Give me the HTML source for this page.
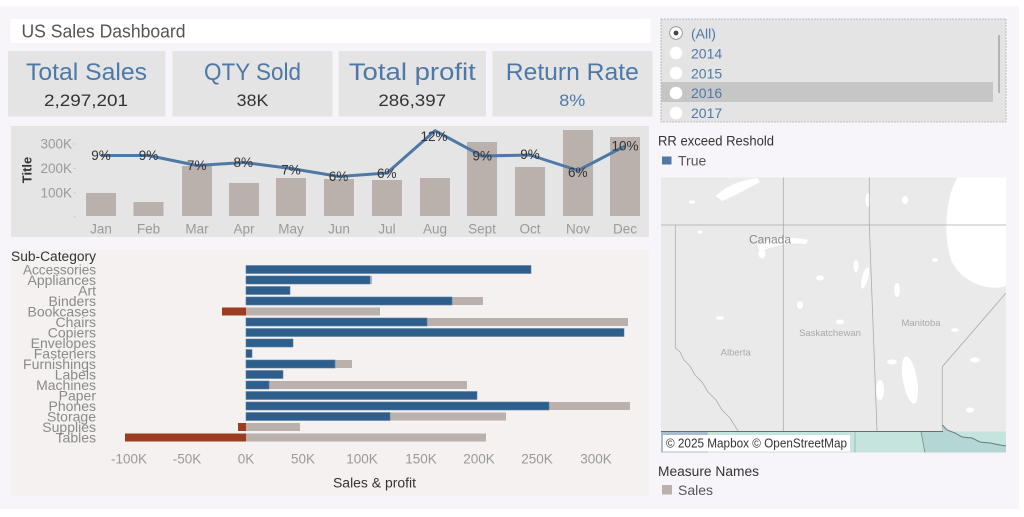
<!DOCTYPE html>
<html>
<head>
<meta charset="utf-8">
<style>
html,body{margin:0;padding:0;background:#fff;}
svg{display:block;font-family:"Liberation Sans",Arial,sans-serif;}
</style>
</head>
<body>
<svg width="1024" height="517" viewBox="0 0 1024 517" xmlns="http://www.w3.org/2000/svg">
<rect width="1024" height="517" fill="#ffffff"/>
<rect x="0" y="6" width="1019" height="503" fill="#f8f5fa"/>

<!-- Title bar -->
<rect x="10.5" y="19" width="640" height="24" fill="#ffffff"/>
<text x="21.5" y="31.5" font-size="18" fill="#555" dominant-baseline="central" textLength="164" lengthAdjust="spacingAndGlyphs">US Sales Dashboard</text>

<!-- KPI boxes -->
<g fill="#e4e4e4">
<rect x="8" y="51" width="157.5" height="65.5"/>
<rect x="172.5" y="51" width="160" height="65.5"/>
<rect x="338.5" y="51" width="147.5" height="65.5"/>
<rect x="492.5" y="51" width="160" height="65.5"/>
</g>
<g font-size="24" fill="#4e79a7" text-anchor="middle" dominant-baseline="central">
<text x="86.5" y="72.5" textLength="121" lengthAdjust="spacingAndGlyphs">Total Sales</text>
<text x="252.5" y="72.5" textLength="97" lengthAdjust="spacingAndGlyphs">QTY Sold</text>
<text x="412.3" y="72.5" textLength="127" lengthAdjust="spacingAndGlyphs">Total profit</text>
<text x="572.3" y="72.5" textLength="133" lengthAdjust="spacingAndGlyphs">Return Rate</text>
</g>
<g font-size="17" fill="#333" text-anchor="middle" dominant-baseline="central">
<text x="86" y="100.7" textLength="84" lengthAdjust="spacingAndGlyphs">2,297,201</text>
<text x="252.5" y="100.7" textLength="31.6" lengthAdjust="spacingAndGlyphs">38K</text>
<text x="412.2" y="100.7" textLength="67.7" lengthAdjust="spacingAndGlyphs">286,397</text>
<text x="572.3" y="100.7" fill="#4e79a7" textLength="26" lengthAdjust="spacingAndGlyphs">8%</text>
</g>

<!-- Line chart panel -->
<rect x="11" y="126" width="638" height="111" fill="#e5e5e5"/>
<text transform="translate(27,170) rotate(-90)" font-size="13" font-weight="bold" fill="#333" text-anchor="middle" dominant-baseline="central">Title</text>
<g font-size="13.5" fill="#9a9a9a" text-anchor="end" dominant-baseline="central">
<text x="72" y="144">300K</text>
<text x="72" y="168.5">200K</text>
<text x="72" y="193">100K</text>
</g>
<g stroke="#cfcfcf" stroke-width="1">
<line x1="73" y1="144" x2="76" y2="144"/>
<line x1="73" y1="168.5" x2="76" y2="168.5"/>
<line x1="73" y1="193" x2="76" y2="193"/>
<line x1="73" y1="217" x2="76" y2="217"/>
</g>
<g fill="#bab0ac">
<rect x="86" y="193" width="30" height="23"/>
<rect x="133.5" y="202" width="30" height="14"/>
<rect x="182" y="166" width="30" height="50"/>
<rect x="229" y="183" width="30" height="33"/>
<rect x="276" y="178" width="30" height="38"/>
<rect x="324" y="179" width="30" height="37"/>
<rect x="372" y="180" width="30" height="36"/>
<rect x="420" y="178" width="30" height="38"/>
<rect x="467" y="142" width="30" height="74"/>
<rect x="515" y="167" width="30" height="49"/>
<rect x="563" y="130" width="30" height="86"/>
<rect x="610" y="137" width="30" height="79"/>
</g>
<polyline fill="none" stroke="#4e79a7" stroke-width="3" stroke-linejoin="round"
 points="101,155.5 148.5,155.5 197,165.5 244,162.5 291,168.5 339,176.5 387,173 435,130.7 482,156 530,155 578,170.5 625,146"/>
<g font-size="13.5" fill="#333" text-anchor="middle" dominant-baseline="central">
<text x="101" y="155.7">9%</text>
<text x="148.5" y="155.7">9%</text>
<text x="196.7" y="165.7">7%</text>
<text x="243.3" y="162.7">8%</text>
<text x="291" y="170">7%</text>
<text x="338.5" y="176.7">6%</text>
<text x="386.7" y="173.3">6%</text>
<text x="434" y="136.7">12%</text>
<text x="482.3" y="156">9%</text>
<text x="530" y="154.3">9%</text>
<text x="577.7" y="172.3">6%</text>
<text x="625" y="146">10%</text>
</g>
<g font-size="13.5" fill="#9a9a9a" text-anchor="middle" dominant-baseline="central">
<text x="101" y="229">Jan</text>
<text x="148.5" y="229">Feb</text>
<text x="197" y="229">Mar</text>
<text x="244" y="229">Apr</text>
<text x="291" y="229">May</text>
<text x="339" y="229">Jun</text>
<text x="387" y="229">Jul</text>
<text x="435" y="229">Aug</text>
<text x="482" y="229">Sept</text>
<text x="530" y="229">Oct</text>
<text x="578" y="229">Nov</text>
<text x="625" y="229">Dec</text>
</g>

<!-- Bar chart panel -->
<rect x="11" y="250" width="638" height="246" fill="#f4f1f0"/>
<text x="11" y="256.7" font-size="13.5" fill="#333" dominant-baseline="central" textLength="85" lengthAdjust="spacingAndGlyphs">Sub-Category</text>
<g font-size="14" fill="#8a8a8a" text-anchor="end" dominant-baseline="central">
<text x="96" y="269.7" textLength="73" lengthAdjust="spacingAndGlyphs">Accessories</text>
<text x="96" y="280.2">Appliances</text>
<text x="96" y="290.7">Art</text>
<text x="96" y="301.2">Binders</text>
<text x="96" y="311.7">Bookcases</text>
<text x="96" y="322.2">Chairs</text>
<text x="96" y="332.7">Copiers</text>
<text x="96" y="343.2">Envelopes</text>
<text x="96" y="353.7">Fasteners</text>
<text x="96" y="364.2" textLength="73" lengthAdjust="spacingAndGlyphs">Furnishings</text>
<text x="96" y="374.7">Labels</text>
<text x="96" y="385.2">Machines</text>
<text x="96" y="395.7">Paper</text>
<text x="96" y="406.2">Phones</text>
<text x="96" y="416.7">Storage</text>
<text x="96" y="427.2">Supplies</text>
<text x="96" y="437.7">Tables</text>
</g>
<!-- gray (sales) bars -->
<g fill="#bab0ac">
<rect x="246" y="276" width="126" height="8"/>
<rect x="246" y="297" width="237" height="8"/>
<rect x="246" y="307.5" width="134" height="8"/>
<rect x="246" y="318" width="382" height="8"/>
<rect x="246" y="360" width="106" height="8"/>
<rect x="246" y="381" width="221" height="8"/>
<rect x="246" y="402" width="384" height="8"/>
<rect x="246" y="412.5" width="260" height="8"/>
<rect x="246" y="423" width="54" height="8"/>
<rect x="246" y="433.5" width="240" height="8"/>
</g>
<!-- blue bars -->
<g fill="#2e5e8b" stroke="#5a80a6" stroke-width="0.6">
<rect x="246" y="265.5" width="285" height="8"/>
<rect x="246" y="276" width="124" height="8"/>
<rect x="246" y="286.5" width="44" height="8"/>
<rect x="246" y="297" width="206" height="8"/>
<rect x="246" y="318" width="181" height="8"/>
<rect x="246" y="328.5" width="378" height="8"/>
<rect x="246" y="339" width="47" height="8"/>
<rect x="246" y="349.5" width="6" height="8"/>
<rect x="246" y="360" width="89" height="8"/>
<rect x="246" y="370.5" width="37" height="8"/>
<rect x="246" y="381" width="23" height="8"/>
<rect x="246" y="391.5" width="231" height="8"/>
<rect x="246" y="402" width="303" height="8"/>
<rect x="246" y="412.5" width="144" height="8"/>
</g>
<!-- red bars -->
<g fill="#9c3d22">
<rect x="222" y="307.5" width="24" height="8"/>
<rect x="238" y="423" width="8" height="8"/>
<rect x="125" y="433.5" width="121" height="8"/>
</g>
<g font-size="13.5" fill="#9a9a9a" text-anchor="middle" dominant-baseline="central">
<text x="129" y="459">-100K</text>
<text x="187" y="459">-50K</text>
<text x="246" y="459">0K</text>
<text x="303" y="459">50K</text>
<text x="362" y="459">100K</text>
<text x="421" y="459">150K</text>
<text x="479" y="459">200K</text>
<text x="537" y="459">250K</text>
<text x="596" y="459">300K</text>
</g>
<text x="374.5" y="483" font-size="13.5" fill="#333" text-anchor="middle" dominant-baseline="central" textLength="83" lengthAdjust="spacingAndGlyphs">Sales &amp; profit</text>

<!-- Year filter -->
<rect x="661" y="19" width="345" height="103" fill="#e4e4e4" stroke="#b0b0b0" stroke-width="0.8" stroke-dasharray="2,1"/>
<rect x="661.5" y="82" width="331.5" height="20" fill="#c6c6c6"/>
<line x1="999" y1="35" x2="999" y2="93" stroke="#9a9a9a" stroke-width="1.3"/>
<circle cx="676" cy="33" r="6.3" fill="#fff" stroke="#888" stroke-width="0.8"/>
<circle cx="676" cy="33" r="2.4" fill="#444"/>
<g fill="#fff">
<circle cx="676" cy="53" r="6.3"/>
<circle cx="676" cy="73" r="6.3"/>
<circle cx="676" cy="93" r="6.3"/>
<circle cx="676" cy="113" r="6.3"/>
</g>
<g font-size="14" fill="#4e79a7" dominant-baseline="central">
<text x="691" y="33.3">(All)</text>
<text x="691" y="53.3">2014</text>
<text x="691" y="73.3">2015</text>
<text x="691" y="93">2016</text>
<text x="691" y="113">2017</text>
</g>

<!-- Legend RR -->
<text x="658" y="141" font-size="13.5" fill="#333" dominant-baseline="central" textLength="116" lengthAdjust="spacingAndGlyphs">RR exceed Reshold</text>
<rect x="662" y="156.5" width="9.5" height="8" fill="#4e79a7"/>
<text x="678" y="160.5" font-size="14" fill="#555" dominant-baseline="central">True</text>

<!-- Map -->
<defs><clipPath id="mc"><rect x="661" y="177.5" width="345" height="275"/></clipPath></defs>
<g clip-path="url(#mc)">
<rect x="661" y="177.5" width="345" height="275" fill="#eaeaea"/>
<!-- lakes -->
<g fill="#ffffff">
<path d="M958,177 C946,195 942,235 952,262 C962,282 988,292 1006,286 L1006,177 Z"/>
<path d="M716,196 C725,186 742,180 757,178 L760,182 C748,188 735,196 722,201 Z"/>
<path d="M757,244 C770,238 790,236 808,240 L806,244 C790,242 772,246 760,252 Z"/>
<ellipse cx="762" cy="254" rx="3.5" ry="4.5"/>
<ellipse cx="910" cy="380" rx="7" ry="24" transform="rotate(-10 910 380)"/>
<ellipse cx="865" cy="278" rx="3" ry="11" transform="rotate(15 865 278)"/>
<ellipse cx="856" cy="266" rx="2.5" ry="6"/>
<ellipse cx="820" cy="278" rx="4" ry="2.5"/>
<ellipse cx="880" cy="390" rx="4" ry="10"/>
<ellipse cx="892" cy="362" rx="5" ry="2.5"/>
<ellipse cx="897" cy="290" rx="3" ry="7"/>
<ellipse cx="905" cy="200" rx="3" ry="4"/>
<ellipse cx="868" cy="200" rx="2.5" ry="7"/>
<ellipse cx="935" cy="260" rx="3" ry="2"/>
<ellipse cx="720" cy="318" rx="4" ry="1.8"/>
<ellipse cx="800" cy="305" rx="3" ry="4"/>
<ellipse cx="840" cy="322" rx="4" ry="2.5"/>
<ellipse cx="955" cy="330" rx="4" ry="1.8"/>
<ellipse cx="975" cy="360" rx="5" ry="2.5"/>
<ellipse cx="970" cy="410" rx="4" ry="2.5"/>
<ellipse cx="692" cy="202" rx="3" ry="1.8"/>
<ellipse cx="700" cy="232" rx="2.5" ry="1.8"/>
</g>
<!-- province lines -->
<g fill="none" stroke="#ababab" stroke-width="0.8">
<line x1="661" y1="225" x2="1006" y2="225"/>
<polyline points="675.3,225 675.3,348 680,352 684,360 690,366 695,375 702,382 708,392 716,400 722,410 730,418 738,431"/>
<line x1="783.3" y1="177" x2="783.3" y2="431"/>
<polyline points="869.3,177 869.3,225 877,431"/>
<polyline points="942.3,431 942.3,366.7 1006,293"/>
</g>
<!-- US states strip -->
<rect x="661" y="431.5" width="345" height="21" fill="#c5e4dd"/>
<rect x="661" y="431.5" width="46" height="21" fill="#a9bdd0"/>
<path d="M921,431.5 L942.3,431.5 L942.3,425 L947,430 L955,433 L962,437 L972,438 L980,442 L990,443 L1000,445 L1006,446 L1006,453 L925,453 Z" fill="#b4d7d6"/>
<polyline points="942.3,425 947,430 955,433 962,437 972,438 980,442 990,443 1000,445 1006,446" fill="none" stroke="#6a7a80" stroke-width="1"/>
<line x1="921" y1="431.5" x2="925" y2="453" stroke="#7b8c90" stroke-width="0.8"/>
<line x1="707" y1="431.5" x2="707" y2="453" stroke="#8a9aa0" stroke-width="0.6"/>
<line x1="855" y1="431.5" x2="855" y2="453" stroke="#8a9aa0" stroke-width="0.6"/>
<line x1="661" y1="431.5" x2="943" y2="431.5" stroke="#6c6c6c" stroke-width="0.9"/>
<!-- labels -->
<text x="770" y="239.3" font-size="12" fill="#888" text-anchor="middle" dominant-baseline="central">Canada</text>
<text x="830" y="333.3" font-size="9.5" fill="#a8a8a8" text-anchor="middle" dominant-baseline="central">Saskatchewan</text>
<text x="921" y="323.7" font-size="9.5" fill="#a8a8a8" text-anchor="middle" dominant-baseline="central">Manitoba</text>
<text x="735.7" y="353" font-size="9.5" fill="#a8a8a8" text-anchor="middle" dominant-baseline="central">Alberta</text>
<!-- attribution -->
<rect x="663" y="435" width="187" height="16.5" fill="#ffffff"/>
<text x="666" y="443.5" font-size="12.5" fill="#333" dominant-baseline="central" textLength="181" lengthAdjust="spacingAndGlyphs">© 2025 Mapbox © OpenStreetMap</text>
</g>

<!-- Legend Measure Names -->
<text x="658" y="471.7" font-size="13.5" fill="#333" dominant-baseline="central" textLength="101" lengthAdjust="spacingAndGlyphs">Measure Names</text>
<rect x="662" y="485" width="10" height="9.5" fill="#bab0ac"/>
<text x="678" y="490" font-size="14" fill="#555" dominant-baseline="central">Sales</text>
</svg>
</body>
</html>
